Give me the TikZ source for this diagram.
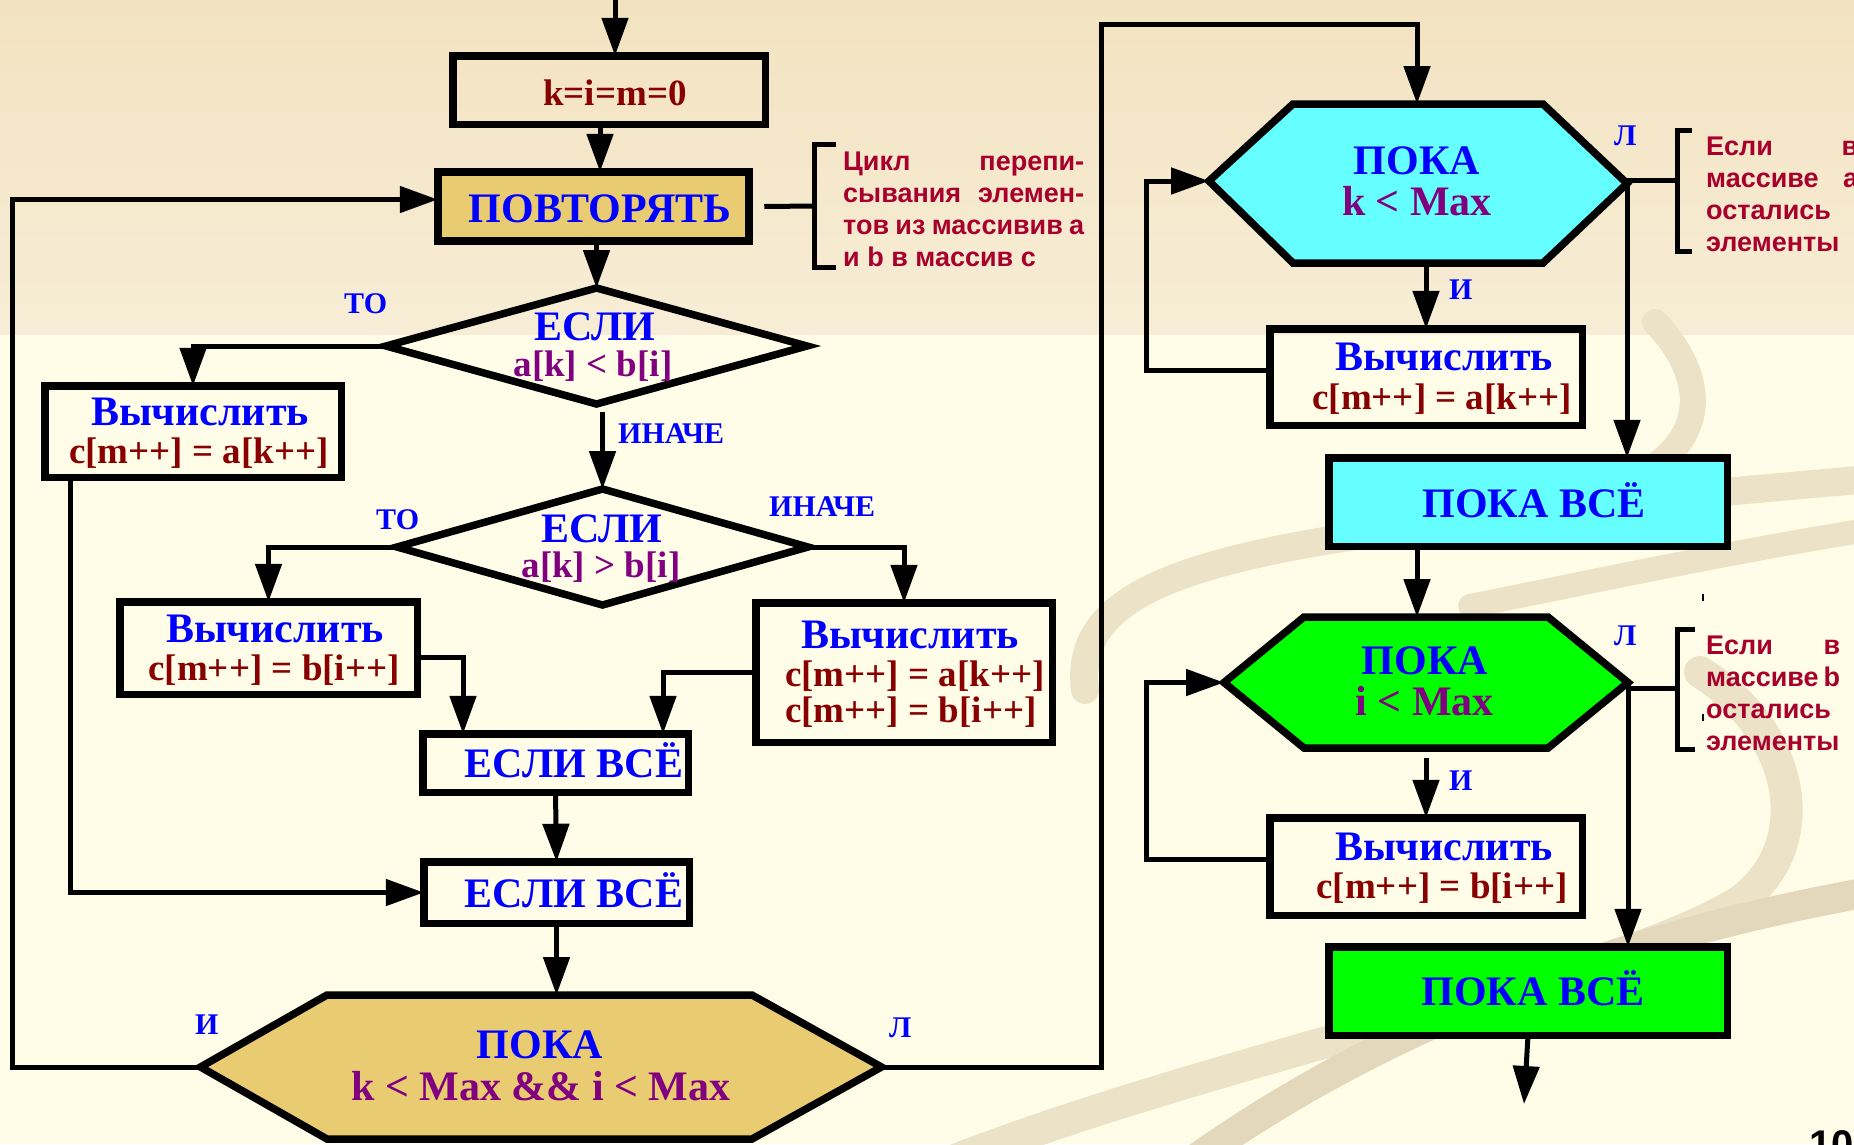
\documentclass[tikz,border=0pt]{standalone}
\usepackage{fontspec}
\setmainfont{Liberation Serif}
\newfontfamily\cmtfont{Liberation Sans}
\usetikzlibrary{arrows.meta,shapes.geometric}
\definecolor{bgtop}{HTML}{F2E2C0}
\definecolor{bgtopb}{HTML}{F7EDD6}
\definecolor{bglow}{HTML}{FFFDE8}
\definecolor{swoosh}{HTML}{ECE2C8}
\definecolor{swooshdk}{HTML}{E3D7BC}
\definecolor{tanfill}{HTML}{E9CC71}
\definecolor{cyanfill}{HTML}{66FFFF}
\definecolor{greenfill}{HTML}{00FF00}
\definecolor{tblue}{HTML}{0000FF}
\definecolor{tmaroon}{HTML}{880000}
\definecolor{tpurple}{HTML}{800080}
\definecolor{cmtcol}{HTML}{A8002C}
\tikzset{
  boxnode/.style={draw=black, line width=7.5pt, rectangle, inner sep=0pt, outer sep=0pt},
  dianode/.style={draw=black, line width=7.5pt, diamond, inner sep=0pt, outer sep=0pt},
  hexpath/.style={draw=black, line width=7.5pt, line join=miter},
  conn/.style={line width=5pt, line join=miter, -{Triangle[length=38pt,width=26pt]}},
  brk/.style={line width=5pt, line join=miter},
  tblu/.style={font=\fontsize{42}{46}\selectfont\bfseries, text=tblue, anchor=base, inner sep=0pt},
  tmar/.style={font=\fontsize{37}{40}\selectfont\bfseries, text=tmaroon, anchor=base, inner sep=0pt},
  tpurbig/.style={font=\fontsize{42}{46}\selectfont\bfseries, text=tpurple, anchor=base, inner sep=0pt},
  tpursm/.style={font=\fontsize{37}{40}\selectfont\bfseries, text=tpurple, anchor=base, inner sep=0pt},
  lbl/.style={font=\fontsize{30}{32}\selectfont\bfseries, text=tblue, anchor=base west, inner sep=0pt},
  cmtnode/.style={font=\cmtfont\bfseries\fontsize{27}{32}\selectfont, text=cmtcol, anchor=base west, inner sep=0pt},
}
\begin{document}
\begin{tikzpicture}[x=1pt,y=-1pt]
\useasboundingbox (0,0) rectangle (1854,1144);
% background
\shade[top color=bgtop, bottom color=bgtopb] (0,0) rectangle (1854,335);
\fill[bglow] (0,335) rectangle (1854,1144);
\begin{scope}[line cap=round]
  \draw[swoosh, line width=28pt] (1085,690) .. controls (1075,610) and (1150,570) .. (1330,540) .. controls (1550,505) and (1750,490) .. (1880,478);
  \draw[swoosh, line width=26pt] (1655,322) .. controls (1710,380) and (1705,440) .. (1640,475);
  \draw[swoosh, line width=24pt] (1470,606) .. controls (1600,580) and (1750,548) .. (1880,528);
  \draw[swoosh, line width=32pt] (1700,672) .. controls (1800,735) and (1815,850) .. (1737,903) .. controls (1600,985) and (1200,1060) .. (930,1170);
  \draw[swooshdk, line width=30pt] (1880,890) .. controls (1650,930) and (1400,1010) .. (1180,1170);
\end{scope}

% boxes
\node[boxnode, minimum width=312.5pt, minimum height=68.5pt] (kbox) at (609,90) {};
\node[boxnode, line width=8pt, fill=tanfill, minimum width=311.5pt, minimum height=69.5pt] (rep) at (593.5,206.5) {};
\node[dianode, minimum width=421pt, minimum height=116pt] (dia1) at (596.5,346) {};
\node[boxnode, minimum width=296.5pt, minimum height=91.5pt] (calcA) at (193,431.5) {};
\node[dianode, minimum width=411pt, minimum height=116pt] (dia2) at (602.5,547) {};
\node[boxnode, minimum width=297.5pt, minimum height=92.5pt] (calcB) at (268.5,648) {};
\node[boxnode, minimum width=296.5pt, minimum height=139.5pt] (calcC) at (904,672.5) {};
\node[boxnode, minimum width=265.5pt, minimum height=58.5pt] (endif1) at (555.5,763) {};
\node[boxnode, minimum width=265.5pt, minimum height=61.5pt] (endif2) at (556.5,892.5) {};
\node[boxnode, minimum width=312.5pt, minimum height=96.5pt] (calcD) at (1426,377) {};
\node[boxnode, fill=cyanfill, minimum width=398.5pt, minimum height=88.5pt] (endwA) at (1528,502) {};
\node[boxnode, minimum width=312.5pt, minimum height=97.5pt] (calcE) at (1426,866.5) {};
\node[boxnode, fill=greenfill, minimum width=398.5pt, minimum height=88.5pt] (endwB) at (1528,991) {};

% hexagons
\coordinate (h1w) at (200.5,1067); \coordinate (h1e) at (881.5,1067); \coordinate (h1n) at (541,995);
\draw[hexpath, fill=tanfill] (h1w) -- (327,995) -- (752,995) -- (h1e) -- (752,1139) -- (327,1139) -- cycle;
\coordinate (h2w) at (1209,181); \coordinate (h2e) at (1627,183.5);
\coordinate (h2n) at (1417,104); \coordinate (h2s) at (1426,263);
\draw[hexpath, fill=cyanfill] (h2w) -- (1293,104) -- (1543,104) -- (h2e) -- (1543,263) -- (1293,263) -- cycle;
\coordinate (h3w) at (1224,682.5); \coordinate (h3e) at (1628,682.5);
\coordinate (h3n) at (1417,617); \coordinate (h3sg) at (1426,758);
\draw[hexpath, fill=greenfill] (h3w) -- (1304,617) -- (1548,617) -- (h3e) -- (1548,748) -- (1304,748) -- cycle;

% texts
\node[tmar] (tk) at (615,105) {k=i=m=0};
\node[tblu] (trep) at (600,222) {ПОВТОРЯТЬ};
\node[tblu] (td1a) at (595,340) {ЕСЛИ};
\node[tpursm] (td1b) at (593,376) {a[k] < b[i]};
\node[tblu] (tcAa) at (200,425) {Вычислить};
\node[tmar] (tcAb) at (199,463) {c[m++] = a[k++]};
\node[tblu] (td2a) at (602,542) {ЕСЛИ};
\node[tpursm] (td2b) at (601,577) {a[k] > b[i]};
\node[tblu] (tcBa) at (275,642) {Вычислить};
\node[tmar] (tcBb) at (274,680) {c[m++] = b[i++]};
\node[tblu] (tcCa) at (910,648) {Вычислить};
\node[tmar, anchor=base west] (tcCb) at (785,686) {c[m++] = a[k++]};
\node[tmar, anchor=base west] (tcCc) at (785,722) {c[m++] = b[i++]};
\node[tblu] (te1) at (574,777) {ЕСЛИ ВСЁ};
\node[tblu] (te2) at (574,907) {ЕСЛИ ВСЁ};
\node[tblu] (th1a) at (540,1058) {ПОКА};
\node[tpurbig] (th1b) at (541,1100) {k < Max \&\& i < Max};
\node[tblu] (th2a) at (1417,174) {ПОКА};
\node[tpurbig] (th2b) at (1417,215) {k < Max};
\node[tblu] (tcDa) at (1444,370) {Вычислить};
\node[tmar] (tcDb) at (1442,409) {c[m++] = a[k++]};
\node[tblu] (tewA) at (1534,517) {ПОКА ВСЁ};
\node[tblu] (th3a) at (1425,674) {ПОКА};
\node[tpurbig] (th3b) at (1424.5,715) {i < Max};
\node[tblu] (tcEa) at (1444,860) {Вычислить};
\node[tmar] (tcEb) at (1442,898) {c[m++] = b[i++]};
\node[tblu] (tewB) at (1533,1005) {ПОКА ВСЁ};

% labels
\node[lbl] (lto1) at (344,313) {ТО};
\node[lbl] (lin1) at (618,443) {ИНАЧЕ};
\node[lbl] (lto2) at (376,529) {ТО};
\node[lbl] (lin2) at (769,516) {ИНАЧЕ};
\node[lbl] (li1) at (195,1034) {И};
\node[lbl] (ll1) at (889,1037) {Л};
\node[lbl] (ll2) at (1614,145) {Л};
\node[lbl] (li2) at (1449,299) {И};
\node[lbl] (ll3) at (1614,645) {Л};
\node[lbl] (li3) at (1449,790) {И};

% comments
\node[cmtnode] (cm1) at (843,170) {\parbox[t]{241pt}{\makebox[\linewidth][s]{Цикл перепи-}\\\makebox[\linewidth][s]{сывания элемен-}\\\makebox[\linewidth][s]{тов из массивив a}\\и b в массив c}};
\node[cmtnode] (cm2) at (1706,155) {\parbox[t]{152pt}{\makebox[\linewidth][s]{Если в}\\\makebox[\linewidth][s]{массиве a}\\остались\\элементы}};
\node[cmtnode] (cm3) at (1706,654) {\parbox[t]{134pt}{\makebox[\linewidth][s]{Если в}\\\makebox[\linewidth][s]{массиве b}\\остались\\элементы}};
\node[font=\cmtfont\bfseries\fontsize{40}{44}\selectfont, anchor=north west, inner sep=0pt] (pgno) at (1809,1130) {10};

% connectors
\coordinate (start) at (615,0);
\draw[conn] (start) -- (start |- kbox.north);
\coordinate (ka) at ([xshift=-9pt]kbox.south);
\draw[conn] (ka) -- (ka |- rep.north);
\draw[conn] (dia1.north |- rep.south) -- (dia1.north);
\coordinate (repw) at ([yshift=7pt]rep.west);
\draw[conn] (h1w) -- ++(-188,0) |- (repw);
\draw[conn] (dia1.west) -| (calcA.north);
\coordinate (d1b) at ([yshift=-8pt]dia1.south);
\draw[conn] (d1b -| dia2.north) -- (dia2.north);
\draw[conn] (dia2.west) -| (calcB.north);
\draw[conn] (dia2.east) -| (calcC.north);
\coordinate (cbr) at ([yshift=-9pt]calcB.east);
\coordinate (e1l) at ([xshift=-92.5pt]endif1.north);
\draw[conn] (cbr) -| (e1l);
\coordinate (e1r) at ([xshift=107.5pt]endif1.north);
\draw[conn] (calcC.west) -| (e1r);
\draw[conn] (endif1.south) -- (endif2.north);
\coordinate (cab) at ([xshift=-123pt]calcA.south);
\draw[conn] (cab) |- (endif2.west);
\draw[conn] (endif2.south) -- (endif2.south |- h1n);
\draw[conn] (h1e) -- ++(220,0) -- ++(0,-1043) -| (h2n);
\draw[conn] (h2s) -- (calcD.north);
\coordinate (cdw) at ([yshift=7pt]calcD.west);
\draw[conn] (cdw) -- ++(-123,0) |- (h2w);
\draw[conn] (h2e) -- (h2e |- endwA.north);
\coordinate (ewa) at ([xshift=-111pt]endwA.south);
\draw[conn] (ewa) -- (ewa |- h3n);
\draw[conn] (h3sg) -- (calcE.north);
\coordinate (cew) at ([yshift=7pt]calcE.west);
\draw[conn] (cew) -- ++(-123,0) |- (h3w);
\draw[conn] (h3e) -- (h3e |- endwB.north);
\coordinate (endpt) at (1524,1104);
\draw[conn] (endwB.south) -- (endpt);

% brackets
\coordinate (b1m) at (814,206);
\draw[brk] ([xshift=15pt]rep.east) -- (b1m);
\draw[brk] (836,144) -- (814,144) -- (814,267) -- (836,267);
\coordinate (b2m) at (1677,180);
\draw[brk] (h2e |- b2m) -- (b2m);
\draw[brk] (1692,130) -- (1677,130) -- (1677,251) -- (1692,251);
\coordinate (b3m) at (1677,688);
\draw[brk] (h3e |- b3m) -- (b3m);
\draw[brk] (1695,629) -- (1677,629) -- (1677,749) -- (1695,749);
% small marks
\draw[line width=1.3pt] (1703,594) -- (1703,601);
\draw[line width=1.3pt] (1703,714) -- (1703,721);
\end{tikzpicture}
\end{document}
